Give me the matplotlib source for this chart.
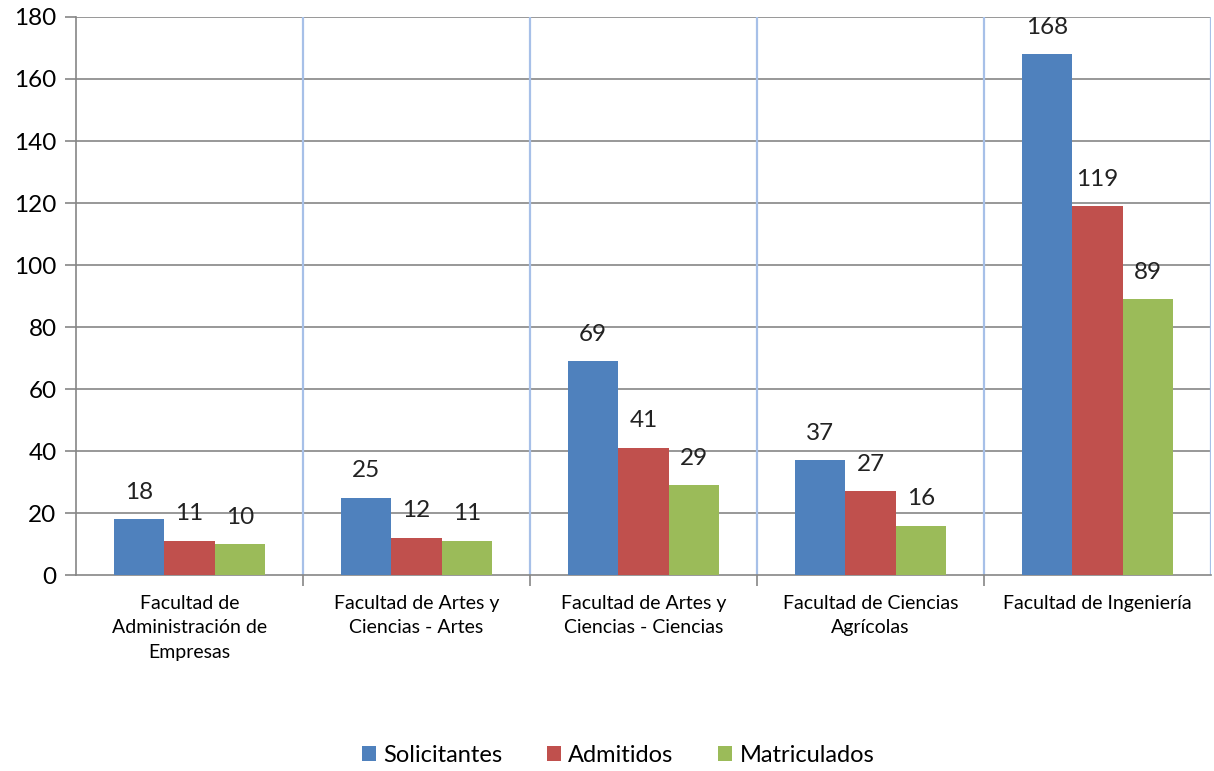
import numpy as np
import matplotlib.pyplot as plt

plt.rcParams['font.family'] = ['Lato', 'DejaVu Sans']

categories = ['Facultad de\nAdministración de\nEmpresas',
              'Facultad de Artes y\nCiencias - Artes',
              'Facultad de Artes y\nCiencias - Ciencias',
              'Facultad de Ciencias\nAgrícolas',
              'Facultad de Ingeniería']
solicitantes = [18, 25, 69, 37, 168]
admitidos = [11, 12, 41, 27, 119]
matriculados = [10, 11, 29, 16, 89]
series = [('Solicitantes', solicitantes, '#4F81BD'),
          ('Admitidos', admitidos, '#C0504D'),
          ('Matriculados', matriculados, '#9BBB59')]

fig = plt.figure(figsize=(12.14, 7.71), dpi=100)
ax = fig.add_axes([0.0626, 0.254, 0.935, 0.724])

x = np.arange(len(categories))
w = 0.222
for i, (name, vals, col) in enumerate(series):
    bars = ax.bar(x + (i - 1) * w, vals, w, color=col, label=name, zorder=3)
    for b in bars:
        ax.annotate(str(int(b.get_height())), (b.get_x() + b.get_width() / 2, b.get_height()),
                    xytext=(0, 19.5), textcoords='offset points', ha='center', va='center',
                    fontsize=17.5, color='#222222')

ax.set_xlim(-0.5, len(categories) - 0.5)
ax.set_ylim(0, 180)
ax.set_yticks(range(0, 181, 20))
ax.tick_params(axis='y', labelsize=17.5, length=8, color='#868686', width=1.2, pad=6)
for y in range(20, 181, 20):
    ax.axhline(y, color='#868686', lw=1.2, zorder=1)
for b in np.arange(0.5, len(categories), 1):
    ax.axvline(b, color='#A7C0E8', lw=1.6, zorder=2)

ax.set_xticks(x)
ax.set_xticklabels(categories, fontsize=14, linespacing=1.55)
ax.tick_params(axis='x', length=0, pad=14)
ax.set_xticks(np.arange(0.5, len(categories) - 1, 1), minor=True)
ax.tick_params(axis='x', which='minor', length=8, color='#868686', width=1.2)

for s in ['top', 'right']:
    ax.spines[s].set_visible(False)
ax.spines['left'].set_color('#868686')
ax.spines['left'].set_linewidth(1.2)
ax.spines['bottom'].set_color('#868686')
ax.spines['bottom'].set_linewidth(1.2)

fig.legend(loc='center', bbox_to_anchor=(0.509, 0.02), ncol=3, frameon=False,
           fontsize=17, handlelength=0.6, handleheight=0.6, handletextpad=0.3,
           columnspacing=1.9)

fig.savefig('out.png', dpi=100)
